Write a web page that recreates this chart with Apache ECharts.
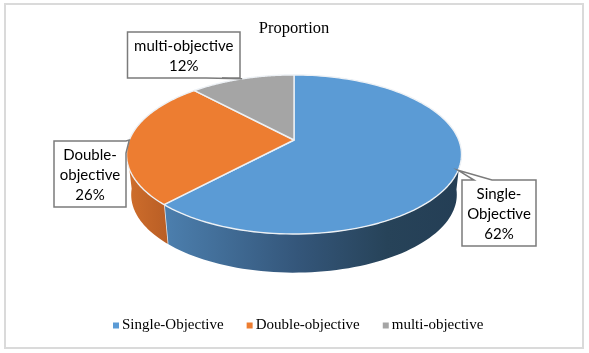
<!DOCTYPE html>
<html>
<head>
<meta charset="utf-8">
<script src="https://cdn.jsdelivr.net/npm/echarts@6/dist/echarts.min.js"></script>
<style>
html, body { margin: 0; padding: 0; background: #fff; }
#main { width: 589px; height: 353px; }
</style>
</head>
<body>
<div id="main"></div>
<script>
var categories = ['Single-Objective', 'Double-objective', 'multi-objective'];
var values = [62, 26, 12];

var colors = ['#5b9bd5', '#ed7d31', '#a5a5a5'];
var wallColors = [
    [{offset: 0, color: '#4c7fae'}, {offset: 0.45, color: '#34567a'}, {offset: 0.75, color: '#274359'}, {offset: 1, color: '#243e55'}],
    [{offset: 0, color: '#cf6e2c'}, {offset: 1, color: '#b95e25'}],
    [{offset: 0, color: '#8a8a8a'}, {offset: 1, color: '#777'}]
];
// callout boxes, in pixels
var boxes = [
    {x: 462, y: 180, w: 74, h: 66, wrap: true, base: [474, 492]},
    {x: 54, y: 141, w: 72, h: 66, wrap: true, base: [119, 126]},
    {x: 127.5, y: 32, w: 112.5, h: 46, wrap: false, base: [206, 222]}
];

// pie top is a circle seen in perspective
var cx = 294, cy = 140, A = 164.7, B = 76.9, K = 0.182;

function rim(turn) {
    var a = turn * Math.PI * 2;
    var u = Math.sin(a), v = -Math.cos(a);
    var w = 1 - K * v;
    return [cx + A * u / w, cy + B * v / w];
}
function lower(p) {
    return [cx + 0.972 * (p[0] - cx), 180.5 + 0.98 * (p[1] - cy)];
}

var total = values.reduce(function (s, v) { return s + v; }, 0);

function sliceRenderer(i) {
    var start = 0;
    for (var k = 0; k < i; k++) start += values[k] / total;
    var end = start + values[i] / total;

    return function (params, api) {
        var arc = [];
        for (var n = 0; n <= 120; n++) {
            arc.push(rim(start + (end - start) * n / 120));
        }
        var children = [];
        // only the front of the rim has a visible wall
        var front = arc.filter(function (p) { return p[1] >= cy + 8; });
        if (front.length > 1) {
            children.push({
                type: 'polygon',
                shape: {points: front.concat(front.map(lower).reverse())},
                style: {fill: new echarts.graphic.LinearGradient(0, 0, 1, 0, wallColors[i])}
            });
        }
        var endRim = rim(end);
        if (i === 0) {
            children.push({
                type: 'line',
                shape: {x1: endRim[0], y1: endRim[1], x2: lower(endRim)[0], y2: lower(endRim)[1]},
                style: {stroke: '#e4ebf2', lineWidth: 1.5}
            });
        }
        children.push({
            type: 'polygon',
            shape: {points: [[cx, cy]].concat(arc)},
            style: {fill: colors[i], stroke: '#edf1f5', lineWidth: 1.4, lineJoin: 'round'}
        });

        // callout, its tip sits on the rim at the middle of the slice
        var b = boxes[i];
        var tip = rim((start + end) / 2);
        var callout;
        if (i === 0) {
            callout = [[b.x, b.y], [b.base[0], b.y], tip, [b.base[1], b.y], [b.x + b.w, b.y], [b.x + b.w, b.y + b.h], [b.x, b.y + b.h]];
        } else if (i === 1) {
            callout = [[b.x, b.y], [b.x + b.w, b.y], tip, [b.x + b.w, b.y + 12], [b.x + b.w, b.y + b.h], [b.x, b.y + b.h]];
        } else {
            callout = [[b.x, b.y], [b.x + b.w, b.y], [b.x + b.w, b.y + b.h], [b.base[1], b.y + b.h], tip, [b.base[0], b.y + b.h], [b.x, b.y + b.h]];
        }
        var name = categories[i];
        if (b.wrap) name = name.replace('-', '-\n');
        children.push({
            type: 'polygon',
            shape: {points: callout},
            style: {fill: '#fff', stroke: '#7b7b7b', lineWidth: 1.5, lineJoin: 'miter'}
        });
        children.push({
            type: 'text',
            style: {
                text: name + '\n' + values[i] + '%',
                x: b.x + b.w / 2,
                y: b.y + b.h / 2 + 1,
                align: 'center',
                verticalAlign: 'middle',
                lineHeight: 20,
                fill: '#000',
                font: '15px Lato'
            }
        });
        return {type: 'group', children: children};
    };
}

var series = [];
for (var i = 0; i < categories.length; i++) {
    series.push({
        name: categories[i],
        type: 'custom',
        coordinateSystem: 'none',
        silent: true,
        itemStyle: {color: colors[i]},
        data: [values[i]],
        renderItem: sliceRenderer(i),
        z: 2 + i
    });
}

var myChart = echarts.init(document.getElementById('main'));
var option = {
    animation: false,
    backgroundColor: '#fff',
    title: {
        text: 'Proportion',
        left: 289,
        top: 15,
        textAlign: 'center',
        textStyle: {fontFamily: 'Liberation Serif', fontSize: 16.5, fontWeight: 'normal', color: '#000'}
    },
    legend: {
        data: categories,
        left: 108,
        top: 313,
        icon: 'rect',
        itemWidth: 6,
        itemHeight: 6,
        itemGap: 23,
        textStyle: {fontFamily: 'Liberation Serif', fontSize: 15, color: '#000', padding: [0, 0, 0, -2]}
    },
    graphic: [{
        type: 'rect',
        z: 0,
        shape: {x: 5, y: 4, width: 578, height: 344},
        style: {fill: '#fff', stroke: '#dadada', lineWidth: 2}
    }],
    series: series
};
myChart.setOption(option);
</script>
</body>
</html>
